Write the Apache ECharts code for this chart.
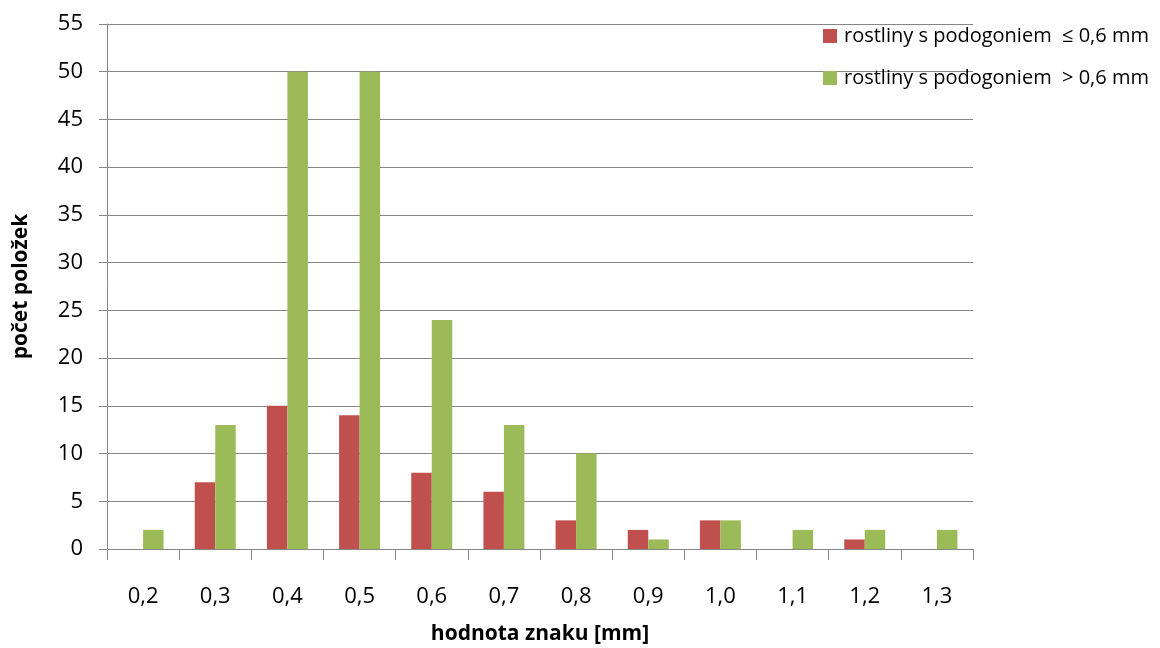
<!DOCTYPE html>
<html><head><meta charset="utf-8">
<script src="https://cdn.jsdelivr.net/npm/echarts@6/dist/echarts.min.js"></script>
<style>html,body{margin:0;padding:0;background:#fff}#c{width:1160px;height:648px}</style>
</head><body><div id="c"></div>
<script>
const categories = ['0,2','0,3','0,4','0,5','0,6','0,7','0,8','0,9','1,0','1,1','1,2','1,3'];
const seriesLow = [0,7,15,14,8,6,3,2,3,0,1,0];
const seriesHigh = [2,13,50,50,24,13,10,1,3,2,2,2];
const nameLow = 'rostliny s podogoniem  ≤ 0,6 mm';
const nameHigh = 'rostliny s podogoniem  > 0,6 mm';
const font = '"Open Sans", "Noto Sans", sans-serif';
const chart = echarts.init(document.getElementById('c'), null, {renderer:'canvas'});
chart.setOption({
  animation:false,
  textStyle:{fontFamily:font},
  grid:{left:107,right:187,top:24,bottom:99,containLabel:false,outerBoundsMode:'none'},
  legend:{
    orient:'vertical', left:818, top:20, itemWidth:14, itemHeight:14, itemGap:20, icon:'rect',
    textStyle:{fontSize:20, lineHeight:22, color:'#000', fontFamily:font, padding:[0,0,0,2]},
    data:[nameLow,nameHigh]
  },
  xAxis:{
    type:'category', data:categories,
    name:'hodnota znaku [mm]', nameLocation:'middle', nameGap:75,
    nameTextStyle:{fontSize:21, fontWeight:'bold', color:'#000'},
    axisLine:{lineStyle:{color:'#868686'}},
    axisTick:{show:true, length:11, alignWithLabel:false, lineStyle:{color:'#868686'}},
    axisLabel:{fontSize:22, color:'#000', margin:37}
  },
  yAxis:{
    type:'value', min:0, max:55, interval:5,
    name:'počet položek', nameLocation:'middle', nameGap:75, nameRotate:90,
    nameTextStyle:{fontSize:21, fontWeight:'bold', color:'#000'},
    axisLine:{show:true, lineStyle:{color:'#868686'}},
    axisTick:{show:true, length:8, lineStyle:{color:'#868686'}},
    axisLabel:{fontSize:22, color:'#000', margin:24},
    splitLine:{lineStyle:{color:'#868686'}}
  },
  series:[
    {name:nameLow, type:'bar', data:seriesLow, barWidth:20.5, barGap:'0%', itemStyle:{color:'#c0504d'}},
    {name:nameHigh, type:'bar', data:seriesHigh, barWidth:20.5, barGap:'0%', itemStyle:{color:'#9bbb59'}}
  ]
});
</script></body></html>
